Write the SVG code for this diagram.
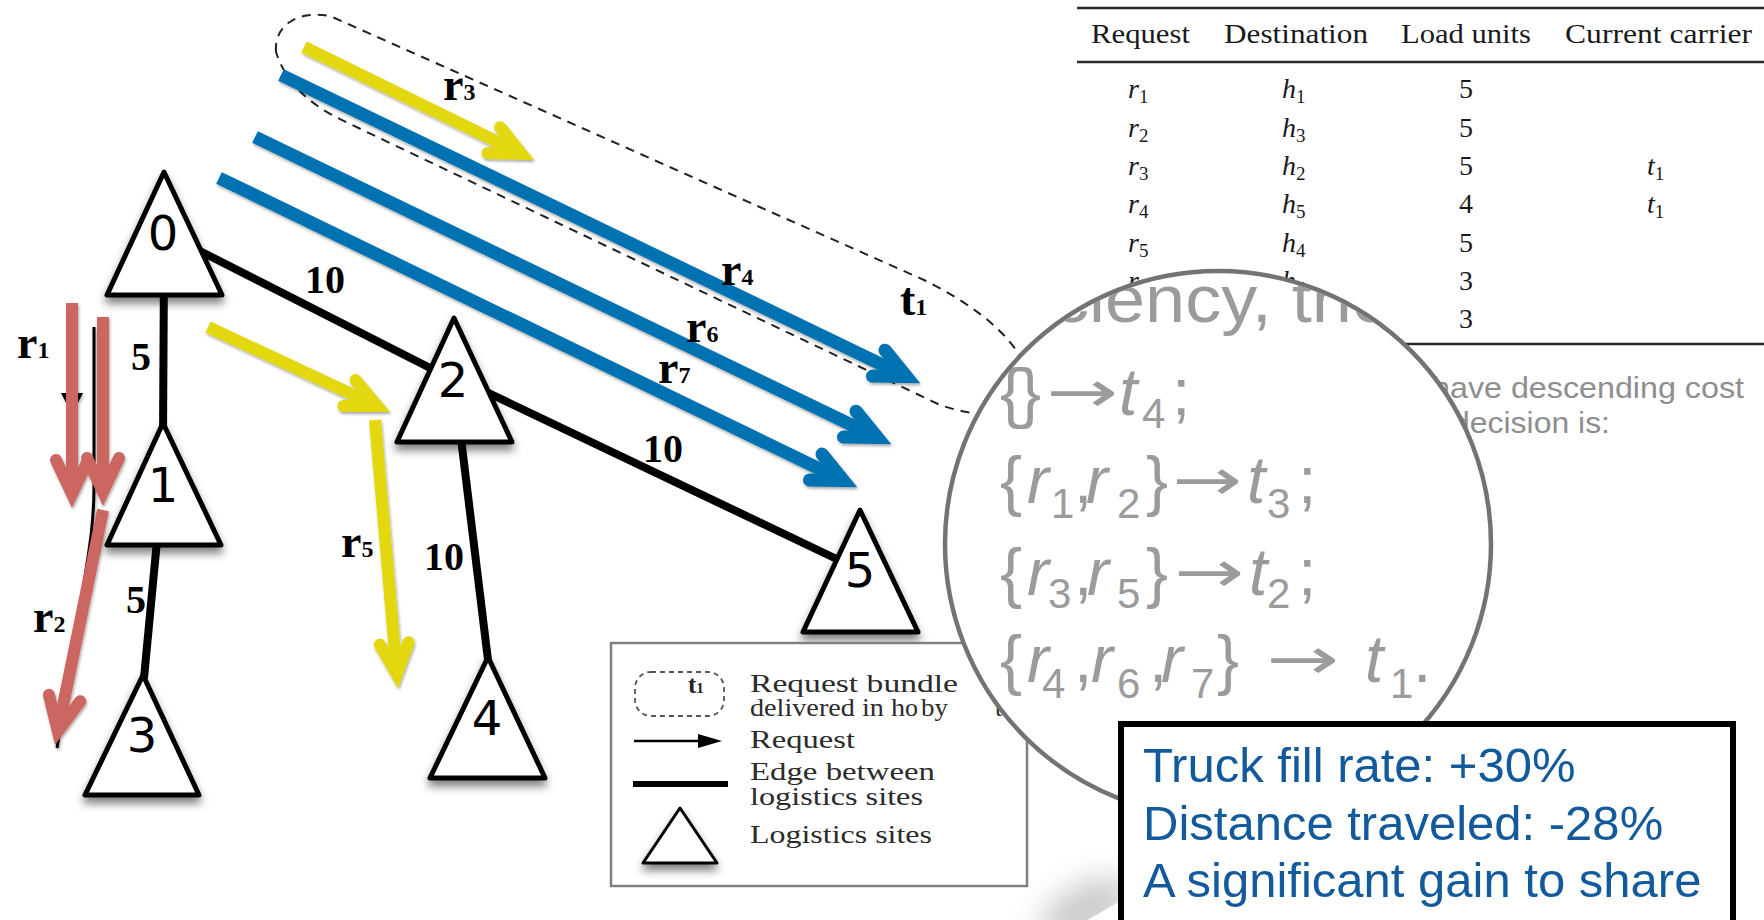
<svg xmlns="http://www.w3.org/2000/svg" width="1764" height="920" viewBox="0 0 1764 920">
<defs>
<style>
.edge{stroke:#000;stroke-width:8;fill:none;stroke-linecap:butt}
.tri{fill:#fff;stroke:#000;stroke-width:5;stroke-linejoin:round}
.nlab{font-family:"DejaVu Sans","Liberation Sans",sans-serif;font-size:48px;text-anchor:middle;fill:#000}
.wlab{font-family:"Liberation Serif",serif;font-weight:bold;font-size:40px;fill:#000}
.rlab{font-family:"Liberation Serif",serif;font-weight:bold;font-size:46px;fill:#000}
.rsub{font-size:24px}
.ab{stroke:#0072B2;stroke-width:13;fill:none;marker-end:url(#mb)}
.ay{stroke:#E3D70E;stroke-width:12;fill:none;marker-end:url(#my)}
.ar{stroke:#CC6660;stroke-width:12;fill:none;marker-end:url(#mr)}
.th{font-family:"Liberation Serif",serif;font-size:28px;fill:#1a1a1a}
.tc{font-family:"Liberation Serif",serif;font-size:28px;fill:#1a1a1a}
.it{font-style:italic}
.ts{font-size:19px}
.rule{stroke:#2a2a2a;stroke-width:2.5}
.gray{font-family:"Liberation Sans",sans-serif;font-size:30px;fill:#8e8e8e}
.mag{font-family:"Liberation Sans",sans-serif;font-size:66px;fill:#9b9b9b}
.arw{font-family:"DejaVu Sans",sans-serif;font-size:58px;fill:#9b9b9b}
.ms{font-size:42px}
.leg{font-family:"Liberation Serif",serif;font-size:26px;fill:#2b2b2b}
.gain{font-family:"Liberation Sans",sans-serif;font-size:49px;fill:#135a9c}
</style>
<marker id="mb" markerUnits="userSpaceOnUse" orient="auto" overflow="visible" refX="0" refY="0" markerWidth="1" markerHeight="1"><path d="M-30.8,-14.4 L0,0 L-30.8,14.4" fill="none" stroke="#0072B2" stroke-width="13" stroke-linecap="round" stroke-linejoin="miter"/></marker>
<marker id="my" markerUnits="userSpaceOnUse" orient="auto" overflow="visible" refX="0" refY="0" markerWidth="1" markerHeight="1"><path d="M-30.8,-14.4 L0,0 L-30.8,14.4" fill="none" stroke="#E3D70E" stroke-width="12" stroke-linecap="round" stroke-linejoin="miter"/></marker>
<marker id="mr" markerUnits="userSpaceOnUse" orient="auto" overflow="visible" refX="0" refY="0" markerWidth="1" markerHeight="1"><path d="M-34,-16 L0,0 L-34,16" fill="none" stroke="#CC6660" stroke-width="12" stroke-linecap="round" stroke-linejoin="miter"/></marker>
<filter id="sh" filterUnits="userSpaceOnUse" x="0" y="0" width="1764" height="920"><feDropShadow dx="0" dy="6" stdDeviation="4" flood-color="#000" flood-opacity="0.5"/></filter>
<filter id="ash" filterUnits="userSpaceOnUse" x="0" y="0" width="1764" height="920"><feDropShadow dx="1" dy="2" stdDeviation="1.5" flood-color="#000" flood-opacity="0.35"/></filter>
<filter id="blur" filterUnits="userSpaceOnUse" x="0" y="0" width="1764" height="920"><feGaussianBlur stdDeviation="15"/></filter>
<clipPath id="lens"><circle cx="1218" cy="544" r="271"/></clipPath>
</defs>
<rect x="0" y="0" width="1764" height="920" fill="#fff"/>

<g id="table">
<line class="rule" x1="1077" y1="8" x2="1764" y2="8"/>
<line class="rule" x1="1077" y1="62" x2="1764" y2="62"/>
<line class="rule" x1="1077" y1="344" x2="1764" y2="344"/>
<text class="th" x="1091" y="43" textLength="99" lengthAdjust="spacingAndGlyphs">Request</text>
<text class="th" x="1224" y="43" textLength="144" lengthAdjust="spacingAndGlyphs">Destination</text>
<text class="th" x="1401" y="43" textLength="130" lengthAdjust="spacingAndGlyphs">Load units</text>
<text class="th" x="1565" y="43" textLength="187" lengthAdjust="spacingAndGlyphs">Current carrier</text>
<text class="tc" x="1128" y="98"><tspan class="it">r</tspan><tspan class="ts" dy="5">1</tspan></text>
<text class="tc" x="1128" y="137"><tspan class="it">r</tspan><tspan class="ts" dy="5">2</tspan></text>
<text class="tc" x="1128" y="175"><tspan class="it">r</tspan><tspan class="ts" dy="5">3</tspan></text>
<text class="tc" x="1128" y="213"><tspan class="it">r</tspan><tspan class="ts" dy="5">4</tspan></text>
<text class="tc" x="1128" y="252"><tspan class="it">r</tspan><tspan class="ts" dy="5">5</tspan></text>
<text class="tc" x="1128" y="290"><tspan class="it">r</tspan><tspan class="ts" dy="5">6</tspan></text>
<text class="tc" x="1282" y="98"><tspan class="it">h</tspan><tspan class="ts" dy="5">1</tspan></text>
<text class="tc" x="1282" y="137"><tspan class="it">h</tspan><tspan class="ts" dy="5">3</tspan></text>
<text class="tc" x="1282" y="175"><tspan class="it">h</tspan><tspan class="ts" dy="5">2</tspan></text>
<text class="tc" x="1282" y="213"><tspan class="it">h</tspan><tspan class="ts" dy="5">5</tspan></text>
<text class="tc" x="1282" y="252"><tspan class="it">h</tspan><tspan class="ts" dy="5">4</tspan></text>
<text class="tc" x="1282" y="290"><tspan class="it">h</tspan><tspan class="ts" dy="5">5</tspan></text>
<text class="tc" x="1466" y="98" text-anchor="middle">5</text>
<text class="tc" x="1466" y="137" text-anchor="middle">5</text>
<text class="tc" x="1466" y="175" text-anchor="middle">5</text>
<text class="tc" x="1466" y="213" text-anchor="middle">4</text>
<text class="tc" x="1466" y="252" text-anchor="middle">5</text>
<text class="tc" x="1466" y="290" text-anchor="middle">3</text>
<text class="tc" x="1466" y="328" text-anchor="middle">3</text>
<text class="tc" x="1647" y="175"><tspan class="it">t</tspan><tspan class="ts" dy="5">1</tspan></text>
<text class="tc" x="1647" y="213"><tspan class="it">t</tspan><tspan class="ts" dy="5">1</tspan></text>
</g>

<g id="page-text">
<text class="gray" x="1432" y="398" textLength="312" lengthAdjust="spacingAndGlyphs">have descending cost</text>
<text class="gray" x="1452" y="433" textLength="158" lengthAdjust="spacingAndGlyphs">decision is:</text>
</g>

<g id="bundle-t1">
<path d="M276,52 C274,25 298,10 330,16 L924,280 C975,305 1030,345 1030,390 C1030,420 985,420 940,405 L348,123 C320,110 288,90 276,52 Z" fill="none" stroke="#222" stroke-width="2" stroke-dasharray="9 7"/>
</g>

<g id="connectors">
<line class="edge" x1="164" y1="260" x2="163" y2="440"/>
<line class="edge" x1="190" y1="246" x2="440" y2="373"/>
<line class="edge" x1="480" y1="389" x2="845" y2="563"/>
<line class="edge" x1="460" y1="430" x2="488" y2="660"/>
<line class="edge" x1="158" y1="530" x2="144" y2="678"/>
</g>

<g id="requests" filter="url(#ash)">
<path d="M94,327 L94,485 C94,520 90,545 86,570 L57,748" fill="none" stroke="#000" stroke-width="3"/>
<path d="M61,393 L83,393 L72,414 Z" fill="#000"/>
<path class="ar" d="M72,303 L72,494"/>
<path class="ar" d="M103,317 L103,492"/>
<path class="ar" d="M103,510 L57.8,731.3"/>
<path class="ay" d="M208,327 L377.3,406.1"/>
<path class="ay" d="M375,420 L396.8,674.1"/>
<path class="ay" d="M304,47 L521.5,153.7"/>
<path class="ab" d="M281,75 L906.5,376.5"/>
<path class="ab" d="M255,137 L877.5,437.5"/>
<path class="ab" d="M219,178 L843.5,480.5"/>
</g>

<g id="node-0"><polygon class="tri" filter="url(#sh)" points="164,172 107,295 222,295"/><text class="nlab" x="163" y="250">0</text></g>
<g id="node-1"><polygon class="tri" filter="url(#sh)" points="163,423 107,545 221,545"/><text class="nlab" x="163" y="502">1</text></g>
<g id="node-2"><polygon class="tri" filter="url(#sh)" points="454,318 397,442 512,442"/><text class="nlab" x="453" y="397">2</text></g>
<g id="node-3"><polygon class="tri" filter="url(#sh)" points="143,675 85,795 199,795"/><text class="nlab" x="142" y="752">3</text></g>
<g id="node-4"><polygon class="tri" filter="url(#sh)" points="488,657 430,778 545,778"/><text class="nlab" x="487" y="735">4</text></g>
<g id="node-5"><polygon class="tri" filter="url(#sh)" points="860,510 803,632 918,632"/><text class="nlab" x="860" y="587">5</text></g>

<g id="labels">
<text class="wlab" x="305" y="293">10</text>
<text class="wlab" x="131" y="370">5</text>
<text class="wlab" x="126" y="613">5</text>
<text class="wlab" x="424" y="570">10</text>
<text class="wlab" x="643" y="462">10</text>
<text class="rlab" x="17" y="358">r<tspan class="rsub">1</tspan></text>
<text class="rlab" x="33" y="632">r<tspan class="rsub">2</tspan></text>
<text class="rlab" x="341" y="557">r<tspan class="rsub">5</tspan></text>
<text class="rlab" x="443" y="100">r<tspan class="rsub">3</tspan></text>
<text class="rlab" x="721" y="285">r<tspan class="rsub">4</tspan></text>
<text class="rlab" x="686" y="342">r<tspan class="rsub">6</tspan></text>
<text class="rlab" x="658" y="383">r<tspan class="rsub">7</tspan></text>
<text class="rlab" x="900" y="315">t<tspan class="rsub">1</tspan></text>
</g>

<g id="legend">
<rect x="611" y="643" width="416" height="243" fill="#fff" stroke="#808080" stroke-width="2.5"/>
<rect x="635" y="672" width="89" height="44" rx="16" fill="none" stroke="#555" stroke-width="1.8" stroke-dasharray="5 4"/>
<text x="688" y="693" font-family="Liberation Serif, serif" font-weight="bold" font-size="25" fill="#222">t<tspan font-size="15">1</tspan></text>
<text class="leg" x="750" y="692" textLength="208" lengthAdjust="spacingAndGlyphs">Request bundle</text>
<text class="leg" x="750" y="716" textLength="155" lengthAdjust="spacingAndGlyphs">delivered in h</text>
<text class="leg" x="905" y="716" font-size="15">o</text>
<text class="leg" x="921" y="716" textLength="27" lengthAdjust="spacingAndGlyphs">by</text>
<text class="leg" x="995" y="716">t</text>
<line x1="634" y1="741" x2="704" y2="741" stroke="#000" stroke-width="2.5"/>
<path d="M698,734 L722,741 L698,748 Z" fill="#000"/>
<text class="leg" x="750" y="748" textLength="105" lengthAdjust="spacingAndGlyphs">Request</text>
<line x1="633" y1="784" x2="728" y2="784" stroke="#000" stroke-width="6"/>
<text class="leg" x="750" y="780" textLength="185" lengthAdjust="spacingAndGlyphs">Edge between</text>
<text class="leg" x="750" y="805" textLength="173" lengthAdjust="spacingAndGlyphs">logistics sites</text>
<polygon points="680,808 643,863 717,863" fill="#fff" stroke="#000" stroke-width="3" stroke-linejoin="round" filter="url(#sh)"/>
<text class="leg" x="750" y="843" textLength="182" lengthAdjust="spacingAndGlyphs">Logistics sites</text>
</g>

<g id="magnifier">
<circle cx="1218" cy="544" r="273" fill="#fff" stroke="#737373" stroke-width="4.5"/>
<g clip-path="url(#lens)">
<text class="mag" x="1053" y="322" font-size="56" textLength="339" lengthAdjust="spacingAndGlyphs">ciency, the</text>
<text class="mag" y="415"><tspan x="1000">{</tspan><tspan x="1019">}</tspan><tspan x="1119" class="it">t</tspan><tspan x="1142" y="428" class="ms">4</tspan><tspan x="1172" y="415">;</tspan></text>
<text class="arw" x="1046" y="412" textLength="72" lengthAdjust="spacingAndGlyphs">→</text>
<text class="mag" y="503"><tspan x="1000">{</tspan><tspan x="1027" class="it">r</tspan><tspan x="1051" y="518" class="ms">1</tspan><tspan x="1074" y="503">,</tspan><tspan x="1086" class="it">r</tspan><tspan x="1117" y="518" class="ms">2</tspan><tspan x="1146" y="503">}</tspan><tspan x="1247" class="it">t</tspan><tspan x="1267" y="518" class="ms">3</tspan><tspan x="1298" y="503">;</tspan></text>
<text class="arw" x="1172" y="500" textLength="70" lengthAdjust="spacingAndGlyphs">→</text>
<text class="mag" y="595"><tspan x="1000">{</tspan><tspan x="1027" class="it">r</tspan><tspan x="1048" y="608" class="ms">3</tspan><tspan x="1074" y="595">,</tspan><tspan x="1087" class="it">r</tspan><tspan x="1117" y="608" class="ms">5</tspan><tspan x="1146" y="595">}</tspan><tspan x="1249" class="it">t</tspan><tspan x="1267" y="608" class="ms">2</tspan><tspan x="1298" y="595">;</tspan></text>
<text class="arw" x="1174" y="592" textLength="70" lengthAdjust="spacingAndGlyphs">→</text>
<text class="mag" y="682"><tspan x="1000">{</tspan><tspan x="1027" class="it">r</tspan><tspan x="1042" y="698" class="ms">4</tspan><tspan x="1074" y="682">,</tspan><tspan x="1091" class="it">r</tspan><tspan x="1117" y="698" class="ms">6</tspan><tspan x="1149" y="682">,</tspan><tspan x="1161" class="it">r</tspan><tspan x="1191" y="698" class="ms">7</tspan><tspan x="1217" y="682">}</tspan><tspan x="1365" class="it">t</tspan><tspan x="1390" y="698" class="ms">1</tspan><tspan x="1413" y="682">.</tspan></text>
<text class="arw" x="1266" y="679" textLength="73" lengthAdjust="spacingAndGlyphs">→</text>
</g>
</g>

<g id="gain-box">
<ellipse cx="1085" cy="910" rx="50" ry="24" fill="#888" opacity="0.45" filter="url(#blur)" transform="rotate(-30 1085 910)"/>
<rect x="1121" y="724" width="612" height="230" fill="#fff" stroke="#000" stroke-width="6"/>
<text class="gain" x="1143" y="782">Truck fill rate: +30%</text>
<text class="gain" x="1143" y="840">Distance traveled: -28%</text>
<text class="gain" x="1143" y="897">A significant gain to share</text>
</g>
</svg>
